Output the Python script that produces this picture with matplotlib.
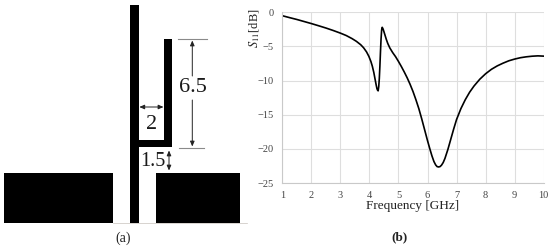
import matplotlib
matplotlib.use("Agg")
import matplotlib.pyplot as plt
from matplotlib.patches import Rectangle

plt.rcParams['font.family'] = ['Liberation Serif', 'DejaVu Serif']
plt.rcParams['mathtext.fontset'] = 'stix'

# Panel (b) data
freq = [1.0, 1.25, 1.5, 1.75, 2.0, 2.25, 2.5, 2.75, 3.0, 3.2, 3.4, 3.55, 3.7, 3.8, 3.9, 3.98, 4.05, 4.1, 4.15, 4.19, 4.23,
        4.26, 4.28, 4.30, 4.32, 4.34, 4.36, 4.38, 4.40, 4.42, 4.44, 4.47, 4.50, 4.54, 4.58, 4.63, 4.7, 4.8, 4.9,
        5.0, 5.1, 5.2, 5.3, 5.4, 5.5, 5.6, 5.7, 5.8, 5.9, 6.0, 6.08, 6.15, 6.22, 6.28, 6.33, 6.38, 6.43, 6.48, 6.54,
        6.6, 6.7, 6.8, 6.9, 7.0, 7.15, 7.3, 7.45, 7.6, 7.8, 8.0, 8.2, 8.4, 8.6, 8.8, 9.0, 9.2, 9.4, 9.6, 9.8, 10.0]
s11 = [-0.5, -0.78, -1.05, -1.35, -1.65, -1.97, -2.3, -2.66, -3.05, -3.4, -3.85, -4.25, -4.75, -5.2, -5.8, -6.45, -7.2, -7.9, -8.8, -9.7, -10.6,
       -11.2, -11.4, -11.5, -10.9, -9.7, -7.9, -5.8, -3.9, -2.6, -2.2, -2.45, -2.85, -3.4, -3.95, -4.55, -5.2, -5.9, -6.5,
       -7.2, -7.95, -8.75, -9.6, -10.55, -11.6, -12.8, -14.1, -15.6, -17.2, -18.8, -20.0, -21.0, -21.85, -22.35, -22.6, -22.65, -22.6, -22.4, -22.0,
       -21.4, -20.1, -18.6, -17.1, -15.7, -14.1, -12.8, -11.7, -10.8, -9.8, -9.0, -8.35, -7.85, -7.45, -7.1, -6.85, -6.65, -6.52, -6.43, -6.38, -6.42]
x_ticks = [1, 2, 3, 4, 5, 6, 7, 8, 9, 10]
y_ticks = [0, -5, -10, -15, -20, -25]

# Panel (a) antenna layout: (left, top, right, bottom) on the drawing's own scale
antenna_rects = [
    (4, 173.3, 113.3, 223),
    (155.7, 173.3, 240, 223),
    (130, 4.7, 139, 223),
    (163.7, 38.7, 172.3, 147.3),
    (139, 139.7, 172.3, 147.3),
]
dim_labels = [("6.5", 192.7, 87.5, 16), ("2", 151.5, 124, 16), ("1.5", 153, 161.5, 14.5)]

W, H = 550, 247
fig = plt.figure(figsize=(W / 100, H / 100), dpi=100, facecolor='white')

# Panel (a)
ax0 = fig.add_axes([0, 0, 1, 1])
ax0.set_xlim(0, W)
ax0.set_ylim(H, 0)
ax0.axis('off')
for l, t, r, b in antenna_rects:
    ax0.add_patch(Rectangle((l, t), r - l, b - t, fc='black', ec='none'))
ax0.plot([113, 247], [223.2, 223.2], color='#c8c2bc', lw=0.5)
for xs, ys in [((178, 206.5), (39.3, 39.3)), ((179, 203.5), (147.6, 147.6))]:
    ax0.plot(xs, ys, color='#8a8a8a', lw=0.8)
arrow = dict(arrowstyle='<|-|>,head_width=0.13,head_length=0.3', color='#222222', lw=0.7, shrinkA=0, shrinkB=0)
one_way = dict(arrowstyle='-|>,head_width=0.13,head_length=0.3', color='#222222', lw=0.7, shrinkA=0, shrinkB=0)
ax0.annotate('', xy=(192.3, 40.5), xytext=(192.3, 76), arrowprops=one_way)
ax0.annotate('', xy=(192.3, 146.5), xytext=(192.3, 100), arrowprops=one_way)
ax0.annotate('', xy=(139.3, 107), xytext=(163.5, 107), arrowprops=arrow)
ax0.annotate('', xy=(169, 150.5), xytext=(169, 170.5), arrowprops=arrow)
for s, x, y, size in dim_labels:
    ax0.text(x, y, s, ha='center', va='center', fontsize=size, color='#1a1a1a')
ax0.text(123.5, 238, '(a)', ha='center', va='center', fontsize=10, color='#222222')
ax0.text(399.5, 237.5, '(b)', ha='center', va='center', fontsize=9.5, fontweight='bold', color='#222222')

# Panel (b)
ax = fig.add_axes([282.3 / W, 1 - 183 / H, (543.7 - 282.3) / W, (183 - 12.3) / H])
ax.plot(freq, s11, color='black', lw=1.2, solid_joinstyle='round')
ax.set_xlim(1, 10)
ax.set_ylim(-25, 0)
ax.set_xticks(x_ticks)
ax.set_yticks(y_ticks)
ax.set_yticklabels(['0', '\u22125', '\u221210', '\u221215', '\u221220', '\u221225'])
ax.grid(True, color='#dedede', lw=0.8)
ax.set_axisbelow(True)
for k in ('top', 'right'):
    ax.spines[k].set_visible(False)
for k in ('left', 'bottom'):
    ax.spines[k].set_color('#c9c9c9')
    ax.spines[k].set_linewidth(0.8)
ax.tick_params(axis='x', length=0, labelsize=7.5, labelcolor='#444444', pad=6)
ax.tick_params(axis='y', length=0, labelsize=7.5, labelcolor='#444444', pad=6)
ax.set_xlabel('Frequency [GHz]', fontsize=9.5, color='#222222', labelpad=1.5)
ax.set_ylabel(r'$S_{11}$[dB]', fontsize=9, color='#222222', labelpad=1)
ax.yaxis.set_label_coords((262 - 282.3) / (543.7 - 282.3), 0.905)
ax.xaxis.set_label_coords(0.5, -0.10)

fig.savefig('out.png', dpi=100, facecolor='white')
